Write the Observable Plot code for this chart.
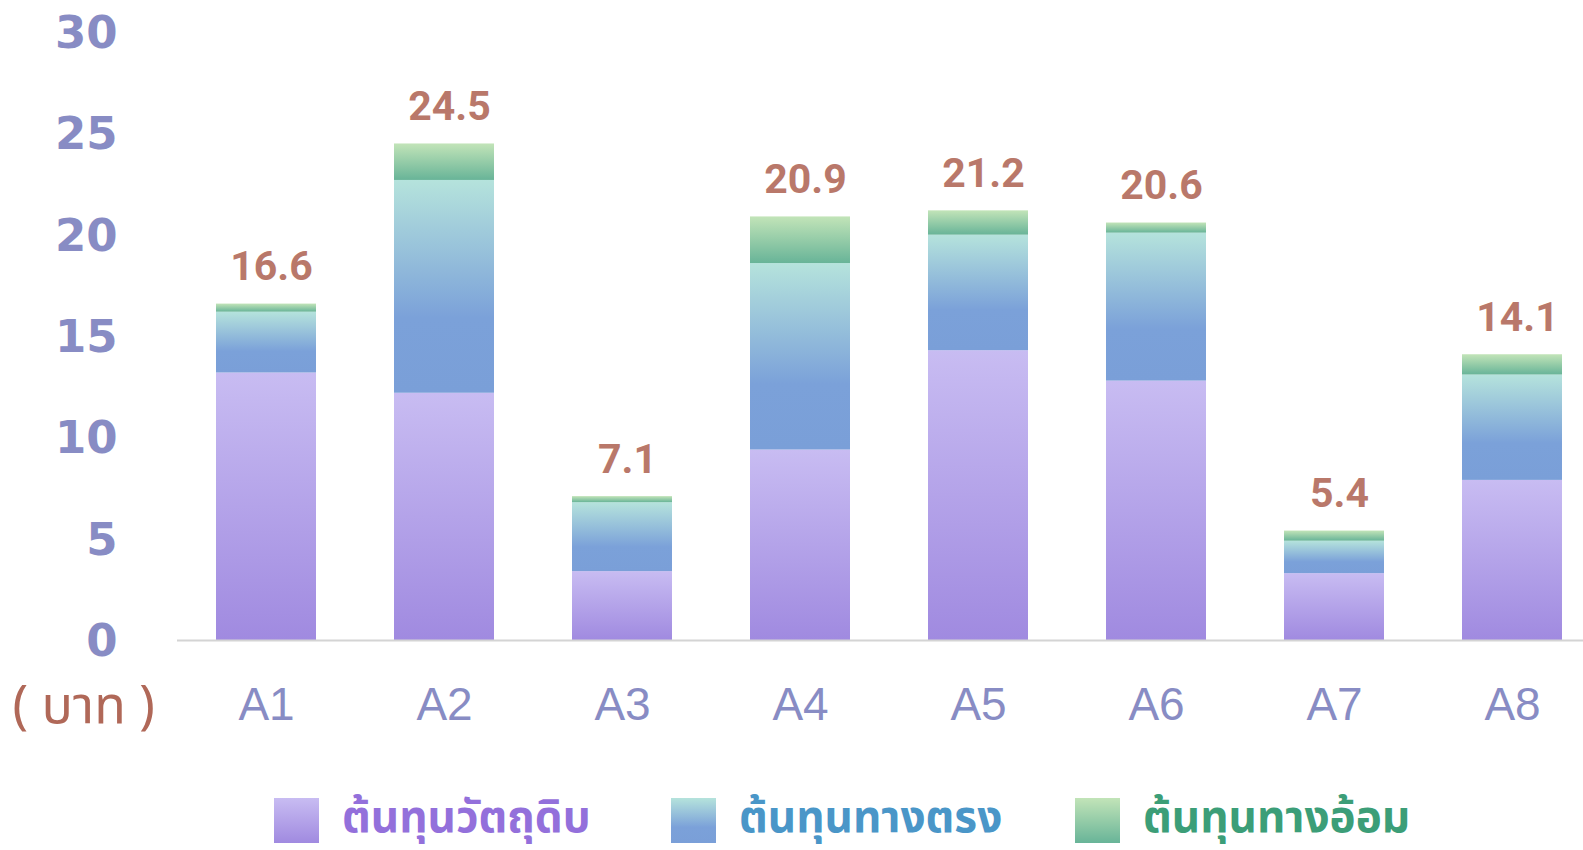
<!DOCTYPE html>
<html>
<head>
<meta charset="utf-8">
<script src="https://cdn.jsdelivr.net/npm/d3@7"></script>
<script src="https://cdn.jsdelivr.net/npm/@observablehq/plot@0.6"></script>
<style>
  html, body { margin: 0; padding: 0; background: #ffffff; }
  body { width: 1583px; height: 850px; overflow: hidden; position: relative; }
  #legend { position: relative; width: 1583px; height: 90px; }
  .item { position: absolute; top: 38px; height: 45px; display: flex; align-items: center; }
  .sw { width: 45px; height: 45px; flex: none; }
  .lab { display: inline-block; height: 45px; line-height: 42px; margin-left: 23px; font-family: Tahoma, "Noto Sans Thai", "Noto Sans Thai Looped", "Noto Looped Thai", sans-serif; font-size: 44px; font-weight: bold; white-space: nowrap; overflow: visible; }
</style>
</head>
<body>
<svg width="0" height="0" style="position:absolute">
  <defs>
    <linearGradient id="gPurple" x1="0" y1="0" x2="0" y2="1">
      <stop offset="0" stop-color="#c8bcf2"/>
      <stop offset="1" stop-color="#a08ae0"/>
    </linearGradient>
    <linearGradient id="gBlue" x1="0" y1="0" x2="0" y2="1">
      <stop offset="0" stop-color="#b5e3dc"/>
      <stop offset="0.65" stop-color="#7ba1d9"/>
      <stop offset="1" stop-color="#7a9fd8"/>
    </linearGradient>
    <linearGradient id="gGreen" x1="0" y1="0" x2="0" y2="1">
      <stop offset="0" stop-color="#c2e4b8"/>
      <stop offset="1" stop-color="#68b498"/>
    </linearGradient>
  </defs>
</svg>
<div id="chart"></div>
<div id="legend"></div>
<script>
// ---- data ----
const categories = ["A1", "A2", "A3", "A4", "A5", "A6", "A7", "A8"];
const seriesNames = ["ต้นทุนวัตถุดิบ", "ต้นทุนทางตรง", "ต้นทุนทางอ้อม"];
const rawMaterial = [13.2, 12.2, 3.4, 9.4, 14.3, 12.8, 3.3, 7.9];
const directCost = [3.0, 10.5, 3.4, 9.2, 5.7, 7.3, 1.6, 5.2];
const indirectCost = [0.4, 1.8, 0.3, 2.3, 1.2, 0.5, 0.5, 1.0];
const totals = [16.6, 24.5, 7.1, 20.9, 21.2, 20.6, 5.4, 14.1];
const yTicks = [0, 5, 10, 15, 20, 25, 30];
const unitLabel = "( บาท )";

// ---- styles ----
const seriesFills = ["url(#gPurple)", "url(#gBlue)", "url(#gGreen)"];
const swatchCss = [
  "linear-gradient(#c8bcf2, #a08ae0)",
  "linear-gradient(#b5e3dc, #7ba1d9 65%, #7a9fd8)",
  "linear-gradient(#c2e4b8, #68b498)"
];
const legendTextColors = ["#9370db", "#4a96c8", "#3c9e78"];
const legendLefts = [274, 671, 1075];
const thaiFont = 'Tahoma, "Noto Sans Thai", "Noto Sans Thai Looped", "Noto Looped Thai", sans-serif';

const seriesValues = [rawMaterial, directCost, indirectCost];
const rows = [];
seriesNames.forEach((s, si) => {
  categories.forEach((c, i) => rows.push({cat: c, series: s, value: seriesValues[si][i]}));
});
const totalRows = categories.map((c, i) => ({cat: c, total: totals[i]}));

const chart = Plot.plot({
  width: 1583,
  height: 760,
  marginLeft: 177,
  marginRight: 0,
  marginTop: 32,
  marginBottom: 120,
  style: {background: "#ffffff"},
  x: {domain: categories, range: [177, 1601], paddingInner: 0.438, paddingOuter: 0.219, align: 0.5},
  y: {domain: [0, 30], range: [640, 32]},
  color: {domain: seriesNames, range: seriesFills},
  marks: [
    Plot.barY(rows, {x: "cat", y: "value", fill: "series", order: seriesNames}),
    Plot.ruleY([0], {stroke: "#d4d4d4", strokeWidth: 2}),
    Plot.axisY({ticks: yTicks, tickSize: 0, tickPadding: 60, label: null,
      fontSize: 45, fontWeight: "bold", fontFamily: "DejaVu Sans", fill: "#888cc4", dy: 1}),
    Plot.axisX({tickSize: 0, tickPadding: 47, label: null,
      fontSize: 46, fontFamily: "Liberation Sans", fill: "#888cc4"}),
    Plot.text(totalRows, {x: "cat", y: "total", text: d => d.total.toFixed(1),
      lineAnchor: "bottom", dy: -24, dx: 5,
      fontSize: 41, fontWeight: "bold", fontFamily: "Roboto", fill: "#b9786a"}),
    Plot.text([unitLabel], {frameAnchor: "bottom-left", textAnchor: "start", lineAnchor: "middle",
      dx: -165, dy: 66, fontSize: 52, fontWeight: "normal", fontFamily: thaiFont, fill: "#b06858"})
  ]
});
document.getElementById("chart").appendChild(chart);

const legend = document.getElementById("legend");
seriesNames.forEach((s, i) => {
  const item = document.createElement("div");
  item.className = "item";
  item.style.left = legendLefts[i] + "px";
  const sw = document.createElement("div");
  sw.className = "sw";
  sw.style.background = swatchCss[i];
  const lab = document.createElement("span");
  lab.className = "lab";
  lab.style.color = legendTextColors[i];
  lab.textContent = s;
  item.appendChild(sw);
  item.appendChild(lab);
  legend.appendChild(item);
});
</script>
</body>
</html>
